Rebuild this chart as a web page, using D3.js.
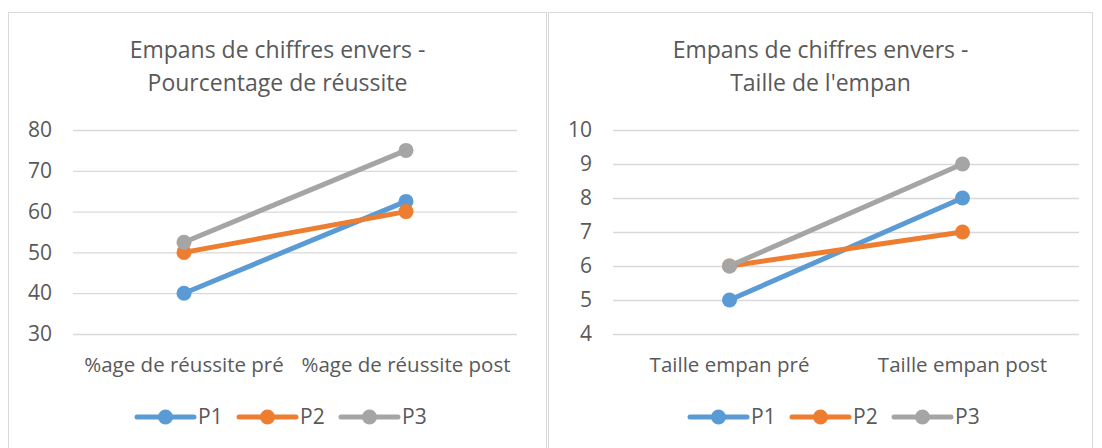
<!DOCTYPE html>
<html>
<head>
<meta charset="utf-8">
<script src="https://cdn.jsdelivr.net/npm/d3@7"></script>
<style>
  body { margin: 0; background: #fff; }
  text { font-family: 'Open Sans', sans-serif; fill: #595959; }
</style>
</head>
<body>
<script>
var series = ['P1', 'P2', 'P3']
var colors = ['#5B9BD5', '#ED7D31', '#A5A5A5']

var pctCategories = ['%age de réussite pré', '%age de réussite post']
var pctP1 = [40, 62.5]
var pctP2 = [50, 60]
var pctP3 = [52.5, 75]
var pctTicks = [30, 40, 50, 60, 70, 80]

var spanCategories = ['Taille empan pré', 'Taille empan post']
var spanP1 = [5, 8]
var spanP2 = [6, 7]
var spanP3 = [6, 9]
var spanTicks = [4, 5, 6, 7, 8, 9, 10]

var svg = d3.select('body').append('svg')
  .attr('width', 1102)
  .attr('height', 448)

drawChart({
  left: 8, width: 539,
  plotLeft: 73, plotRight: 517,
  legendX: 137,
  title: ['Empans de chiffres envers -', 'Pourcentage de réussite'],
  categories: pctCategories,
  values: [pctP1, pctP2, pctP3],
  ticks: pctTicks
})

drawChart({
  left: 548, width: 545,
  plotLeft: 613, plotRight: 1079,
  legendX: 690,
  title: ['Empans de chiffres envers -', "Taille de l'empan"],
  categories: spanCategories,
  values: [spanP1, spanP2, spanP3],
  ticks: spanTicks
})

function drawChart (cfg) {
  var g = svg.append('g')
  var cx = cfg.left + cfg.width / 2

  // panel border
  g.append('rect')
    .attr('x', cfg.left + 0.5)
    .attr('y', 12.5)
    .attr('width', cfg.width - 1)
    .attr('height', 460)
    .style('fill', '#fff')
    .style('stroke', '#D9D9D9')

  g.selectAll('.title')
    .data(cfg.title)
    .enter().append('text')
    .attr('x', cx)
    .attr('y', function (d, i) { return 58 + i * 33 })
    .attr('text-anchor', 'middle')
    .style('font-size', '23px')
    .text(function (d) { return d })

  var x = d3.scaleBand()
    .domain(cfg.categories)
    .range([cfg.plotLeft, cfg.plotRight])

  var y = d3.scaleLinear()
    .domain(d3.extent(cfg.ticks))
    .range([334, 130])

  var yAxis = g.append('g')
    .attr('transform', 'translate(' + cfg.plotLeft + ',0)')
    .call(d3.axisLeft(y)
      .tickValues(cfg.ticks)
      .tickFormat(d3.format('d'))
      .tickSize(-(cfg.plotRight - cfg.plotLeft))
      .tickPadding(21))
  yAxis.select('.domain').remove()
  yAxis.selectAll('line').style('stroke', '#D9D9D9').style('stroke-width', 1.3)
  yAxis.selectAll('text').style('font-size', '21px').style('fill', '#595959')

  var xAxis = g.append('g')
    .attr('transform', 'translate(0,334)')
    .call(d3.axisBottom(x).tickSize(0).tickPadding(23))
  xAxis.select('.domain').remove()
  xAxis.selectAll('text').style('font-size', '20.5px').style('fill', '#595959')

  var line = d3.line()
    .x(function (d, i) { return x(cfg.categories[i]) + x.bandwidth() / 2 })
    .y(function (d) { return y(d) })

  cfg.values.forEach(function (vals, s) {
    g.append('path')
      .datum(vals)
      .attr('d', line)
      .style('fill', 'none')
      .style('stroke', colors[s])
      .style('stroke-width', 5)
      .style('stroke-linecap', 'round')
    g.selectAll('.dot' + s)
      .data(vals)
      .enter().append('circle')
      .attr('cx', function (d, i) { return x(cfg.categories[i]) + x.bandwidth() / 2 })
      .attr('cy', function (d) { return y(d) })
      .attr('r', 7.5)
      .style('fill', colors[s])
  })

  // legend
  var itemW = 102
  var legend = g.append('g')
    .attr('transform', 'translate(' + cfg.legendX + ',417)')
  series.forEach(function (name, s) {
    var item = legend.append('g').attr('transform', 'translate(' + (s * itemW) + ',0)')
    item.append('line')
      .attr('x1', 0).attr('x2', 57)
      .style('stroke', colors[s])
      .style('stroke-width', 5)
      .style('stroke-linecap', 'round')
    item.append('circle')
      .attr('cx', 28.5).attr('r', 7.5)
      .style('fill', colors[s])
    item.append('text')
      .attr('x', 61).attr('dy', '0.35em')
      .style('font-size', '21px')
      .text(name)
  })
}
</script>
</body>
</html>
